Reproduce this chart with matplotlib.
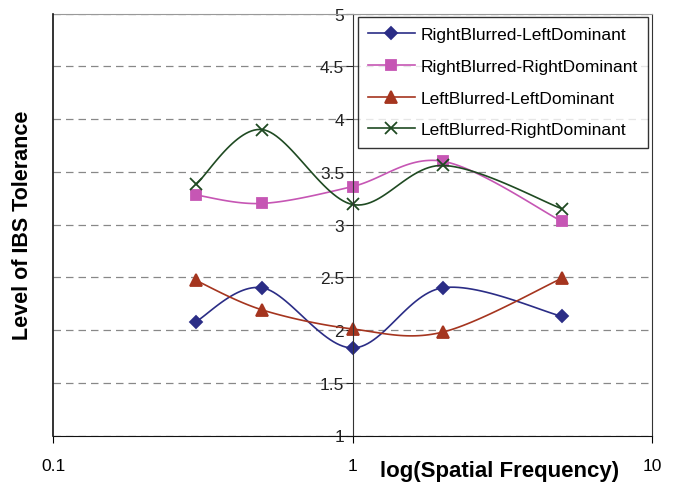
import matplotlib
matplotlib.use("Agg")
import matplotlib.pyplot as plt
import numpy as np

plt.rcParams['font.family'] = ['Liberation Sans', 'DejaVu Sans']

freq = [0.3, 0.5, 1, 2, 5]
series_names = ['RightBlurred-LeftDominant', 'RightBlurred-RightDominant',
                'LeftBlurred-LeftDominant', 'LeftBlurred-RightDominant']
rb_ld = [2.08, 2.40, 1.83, 2.40, 2.13]
rb_rd = [3.28, 3.20, 3.36, 3.60, 3.03]
lb_ld = [2.47, 2.19, 2.01, 1.98, 2.49]
lb_rd = [3.38, 3.90, 3.19, 3.56, 3.15]
y_ticks = [1, 1.5, 2, 2.5, 3, 3.5, 4, 4.5, 5]

colors = ['#2b2d86', '#c656b4', '#a5351f', '#1f4a22']
markers = ['D', 's', '^', 'x']
msizes = [6, 7, 8, 8]


def smooth(xs, ys, n=30):
    # Excel style smoothed line (Catmull-Rom in log-x space)
    lx = np.log10(xs)
    ys = np.asarray(ys, float)
    px = np.concatenate([[lx[0]], lx, [lx[-1]]])
    py = np.concatenate([[ys[0]], ys, [ys[-1]]])
    outx, outy = [], []
    t = np.linspace(0, 1, n)
    for i in range(1, len(px) - 2):
        p0, p1, p2, p3 = [np.array([px[j], py[j]]) for j in range(i - 1, i + 3)]
        c1 = p1 + (p2 - p0) / 6
        c2 = p2 - (p3 - p1) / 6
        b = ((1 - t) ** 3)[:, None] * p1 + (3 * (1 - t) ** 2 * t)[:, None] * c1 \
            + (3 * (1 - t) * t ** 2)[:, None] * c2 + (t ** 3)[:, None] * p2
        outx.extend(b[:, 0])
        outy.extend(b[:, 1])
    return 10 ** np.array(outx), np.array(outy)


fig = plt.figure(figsize=(6.73, 4.85), dpi=100)
ax = fig.add_axes([0.0788, 0.100, 0.890, 0.870])

for ys, name, c, m, ms in zip([rb_ld, rb_rd, lb_ld, lb_rd], series_names, colors, markers, msizes):
    sx, sy = smooth(freq, ys)
    ax.plot(sx, sy, color=c, lw=1.2)
    ax.plot(freq, ys, linestyle='none', marker=m, color=c, ms=ms, mew=1.3)
    ax.plot([], [], color=c, lw=1.2, marker=m, ms=ms, mew=1.3, label=name)

ax.set_xscale('log')
ax.set_xlim(0.1, 10)
ax.set_ylim(1, 5)
ax.set_xticks([0.1, 1, 10])
ax.set_xticklabels(['0.1', '1', '10'])
ax.xaxis.set_minor_locator(matplotlib.ticker.NullLocator())
ax.set_yticks(y_ticks)
ax.set_yticklabels(['1', '1.5', '2', '2.5', '3', '3.5', '4', '4.5', '5'])

ax.yaxis.grid(True, linestyle=(0, (6, 4)), color='#888888', lw=0.9)
ax.set_axisbelow(True)

ax.spines['left'].set_position(('data', 1))
ax.spines['left'].set_color('#333333')
ax.spines['bottom'].set_color('#111111')
ax.spines['right'].set_color('#333333')
ax.spines['top'].set_color('#999999')
# outer left frame line at x=0.1
ax.plot([0, 0], [0, 1], transform=ax.transAxes, color='#111111', lw=1.2, clip_on=False, zorder=3)

ax.tick_params(axis='y', direction='out', length=5, labelsize=12.5, pad=1, colors='#222222')
ax.tick_params(axis='x', direction='out', length=5, labelsize=12.5, pad=11)

ax.set_ylabel('Level of IBS Tolerance', fontsize=15.5, fontweight='bold')
ax.yaxis.set_label_coords(-0.034, 0.5)
ax.set_xlabel('log(Spatial Frequency)', fontsize=16, fontweight='bold')
ax.xaxis.set_label_coords(0.745, -0.058)

leg = ax.legend(loc='upper right', bbox_to_anchor=(0.993, 0.992), borderaxespad=0,
                fontsize=12.5, frameon=True, fancybox=False, edgecolor='black',
                handlelength=2.7, labelspacing=0.95, borderpad=0.6, handletextpad=0.3)
leg.get_frame().set_linewidth(1.0)

fig.savefig('out.png', dpi=100)
